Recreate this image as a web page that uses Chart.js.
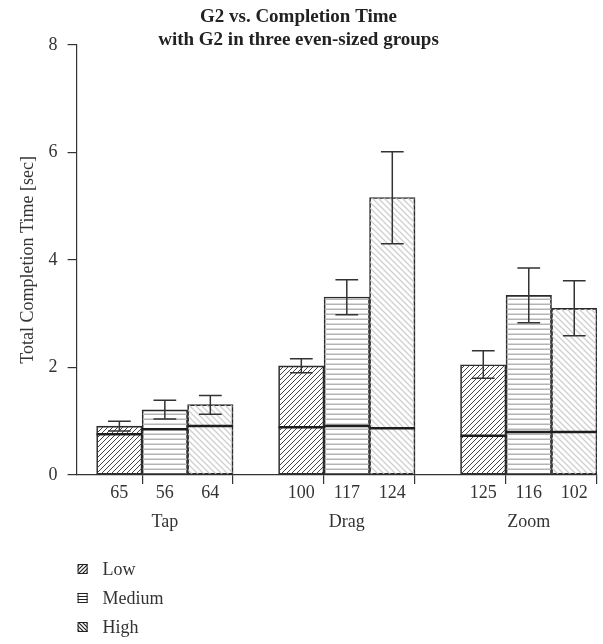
<!DOCTYPE html>
<html>
<head>
<meta charset="utf-8">
<script src="https://cdn.jsdelivr.net/npm/chart.js@4.4.1/dist/chart.umd.min.js"></script>
<style>
  html, body { margin: 0; padding: 0; background: #fff; }
  #wrap { width: 603px; height: 644px; }
</style>
</head>
<body>
<div id="wrap"><canvas id="chart"></canvas></div>
<script>
const groups = ['Tap', 'Drag', 'Zoom'];
const levels = ['Low', 'Medium', 'High'];

// n per bar (shown under each bar)
const countsLow = [65, 100, 125];
const countsMedium = [56, 117, 116];
const countsHigh = [64, 124, 102];

// mean completion time (bar height)
const meanLow = [0.91, 2.03, 2.05];
const meanMedium = [1.21, 3.31, 3.34];
const meanHigh = [1.31, 5.16, 3.10];

// median (thick line inside bar)
const medianLow = [0.76, 0.89, 0.73];
const medianMedium = [0.85, 0.91, 0.80];
const medianHigh = [0.91, 0.87, 0.80];

// error bar ends
const errLoLow = [0.82, 1.90, 1.80];
const errHiLow = [1.00, 2.16, 2.31];
const errLoMedium = [1.04, 2.98, 2.83];
const errHiMedium = [1.39, 3.63, 3.85];
const errLoHigh = [1.13, 4.30, 2.59];
const errHiHigh = [1.48, 6.01, 3.61];

const yTicks = [0, 2, 4, 6, 8];

const FONT = "'Liberation Serif', 'DejaVu Serif', serif";
const slot = levels.length + 1; // bars per group + gap

function makePattern(kind, color, n, lw) {
    const c = document.createElement('canvas');
    c.width = n; c.height = n;
    const g = c.getContext('2d');
    g.strokeStyle = color;
    g.lineWidth = lw;
    g.beginPath();
    if (kind === 'h') {
        g.moveTo(0, n - lw / 2); g.lineTo(n, n - lw / 2);
    } else if (kind === '/') {
        g.moveTo(0, n); g.lineTo(n, 0);
        g.moveTo(-1, 1); g.lineTo(1, -1);
        g.moveTo(n - 1, n + 1); g.lineTo(n + 1, n - 1);
    } else {
        g.moveTo(0, 0); g.lineTo(n, n);
        g.moveTo(n - 1, -1); g.lineTo(n + 1, 1);
        g.moveTo(-1, n - 1); g.lineTo(1, n + 1);
    }
    g.stroke();
    return g.createPattern(c, 'repeat');
}

const fills = [
    makePattern('/', '#444', 5, 1),
    makePattern('h', '#b4b4b4', 5, 1.5),
    makePattern('\\', '#cfcfcf', 6, 1.3)
];
const legendFills = [
    makePattern('/', '#222', 4, 1.2),
    makePattern('h', '#222', 3, 1),
    makePattern('\\', '#222', 4, 1.2)
];

const means = [meanLow, meanMedium, meanHigh];
const medians = [medianLow, medianMedium, medianHigh];
const errLo = [errLoLow, errLoMedium, errLoHigh];
const errHi = [errHiLow, errHiMedium, errHiHigh];
const counts = [countsLow, countsMedium, countsHigh];

// bar centre positions on the linear x scale, plus labels for the count axis
const barPos = [];
const barCount = [];
groups.forEach((g, gi) => {
    levels.forEach((l, li) => {
        barPos.push(gi * slot + li + 0.5);
        barCount.push(counts[li][gi]);
    });
});
const groupPos = groups.map((g, gi) => gi * slot + levels.length / 2);
const markPos = [];
groups.forEach((g, gi) => { markPos.push(gi * slot + 1, gi * slot + levels.length); });

const datasets = levels.map((name, li) => ({
    label: name,
    data: groups.map((g, gi) => ({ x: gi * slot + li + 0.5, y: means[li][gi] })),
    backgroundColor: fills[li],
    borderColor: '#2a2a2a',
    borderWidth: 1,
    borderSkipped: false,
    grouped: false,
    categoryPercentage: 1,
    barPercentage: 1,
    medians: medians[li],
    errLo: errLo[li],
    errHi: errHi[li]
}));

const whiskers = {
    id: 'whiskers',
    afterDatasetsDraw(chart) {
        const ctx = chart.ctx;
        const y = chart.scales.y;
        chart.data.datasets.forEach((ds, di) => {
            const meta = chart.getDatasetMeta(di);
            meta.data.forEach((bar, i) => {
                const half = bar.width / 2;
                const cap = bar.width * 0.25;
                ctx.save();
                ctx.strokeStyle = '#1e1e1e';
                ctx.lineWidth = 2.5;
                const my = y.getPixelForValue(ds.medians[i]);
                ctx.beginPath();
                ctx.moveTo(bar.x - half, my);
                ctx.lineTo(bar.x + half, my);
                ctx.stroke();

                const lo = y.getPixelForValue(ds.errLo[i]);
                const hi = y.getPixelForValue(ds.errHi[i]);
                ctx.strokeStyle = '#333';
                ctx.lineWidth = 1.5;
                ctx.beginPath();
                ctx.moveTo(bar.x, lo); ctx.lineTo(bar.x, hi);
                ctx.moveTo(bar.x - cap, lo); ctx.lineTo(bar.x + cap, lo);
                ctx.moveTo(bar.x - cap, hi); ctx.lineTo(bar.x + cap, hi);
                ctx.stroke();
                ctx.restore();
            });
        });
    }
};

// vertical legend below the axis labels
const sideLegend = {
    id: 'sideLegend',
    afterDraw(chart) {
        const ctx = chart.ctx;
        const left = chart.chartArea.left + 1;
        const top = chart.scales.xGroups.bottom + 27;
        ctx.save();
        ctx.font = '18px ' + FONT;
        ctx.textBaseline = 'middle';
        chart.data.datasets.forEach((ds, i) => {
            const cy = top + i * 29;
            ctx.fillStyle = legendFills[i];
            ctx.fillRect(left, cy - 5, 10, 10);
            ctx.strokeStyle = '#222';
            ctx.lineWidth = 1;
            ctx.strokeRect(left + 0.5, cy - 4.5, 9, 9);
            ctx.fillStyle = '#333';
            ctx.fillText(ds.label, left + 25, cy + 1);
        });
        ctx.restore();
    }
};

const xMin = -0.44;
const xMax = groups.length * slot - 1;

new Chart(document.getElementById('chart'), {
    type: 'bar',
    data: { datasets },
    plugins: [whiskers, sideLegend],
    options: {
        responsive: true,
        maintainAspectRatio: false,
        animation: false,
        layout: { padding: { left: 0, right: 6, bottom: 102 } },
        plugins: {
            legend: { display: false },
            tooltip: { enabled: false },
            title: {
                display: true,
                text: ['G2 vs. Completion Time', 'with G2 in three even-sized groups'],
                font: { family: FONT, size: 19, weight: 'bold', lineHeight: 1.2 },
                color: '#222',
                padding: { top: 5.6, bottom: -6.4 }
            }
        },
        scales: {
            x: {
                type: 'linear',
                position: 'bottom',
                offset: false,
                weight: 1,
                min: xMin,
                max: xMax,
                afterBuildTicks: axis => { axis.ticks = barPos.map(v => ({ value: v })); },
                ticks: {
                    autoSkip: false,
                    maxRotation: 0,
                    padding: 0,
                    color: '#333',
                    font: { family: FONT, size: 18, lineHeight: 1 },
                    callback: (v, i) => barCount[i]
                },
                grid: { display: false, drawTicks: false, offset: false },
                border: { display: false }
            },
            xMarks: {
                type: 'linear',
                position: 'bottom',
                offset: false,
                weight: 0,
                min: xMin,
                max: xMax,
                afterBuildTicks: axis => { axis.ticks = markPos.map(v => ({ value: v })); },
                ticks: { display: false },
                grid: { drawOnChartArea: false, offset: false, tickLength: 9, color: '#333', lineWidth: 1.2 },
                border: { color: '#333', width: 1.2 }
            },
            xGroups: {
                type: 'linear',
                position: 'bottom',
                offset: false,
                weight: 2,
                min: xMin,
                max: xMax,
                afterBuildTicks: axis => { axis.ticks = groupPos.map(v => ({ value: v })); },
                ticks: {
                    autoSkip: false,
                    maxRotation: 0,
                    padding: 11,
                    color: '#333',
                    font: { family: FONT, size: 18, lineHeight: 1 },
                    callback: (v, i) => groups[i]
                },
                grid: { display: false, drawTicks: false, offset: false },
                border: { display: false }
            },
            y: {
                min: 0,
                max: 8,
                afterBuildTicks: axis => { axis.ticks = yTicks.map(v => ({ value: v })); },
                ticks: {
                    padding: 10,
                    color: '#333',
                    font: { family: FONT, size: 18 }
                },
                grid: { drawOnChartArea: false, tickLength: 9, color: '#333', lineWidth: 1.2 },
                border: { color: '#333', width: 1.2 },
                title: {
                    display: true,
                    text: 'Total Completion Time [sec]',
                    color: '#333',
                    font: { family: FONT, size: 18, lineHeight: 1.2 },
                    padding: { top: 17, bottom: 0 }
                }
            }
        }
    }
});
</script>
</body>
</html>
